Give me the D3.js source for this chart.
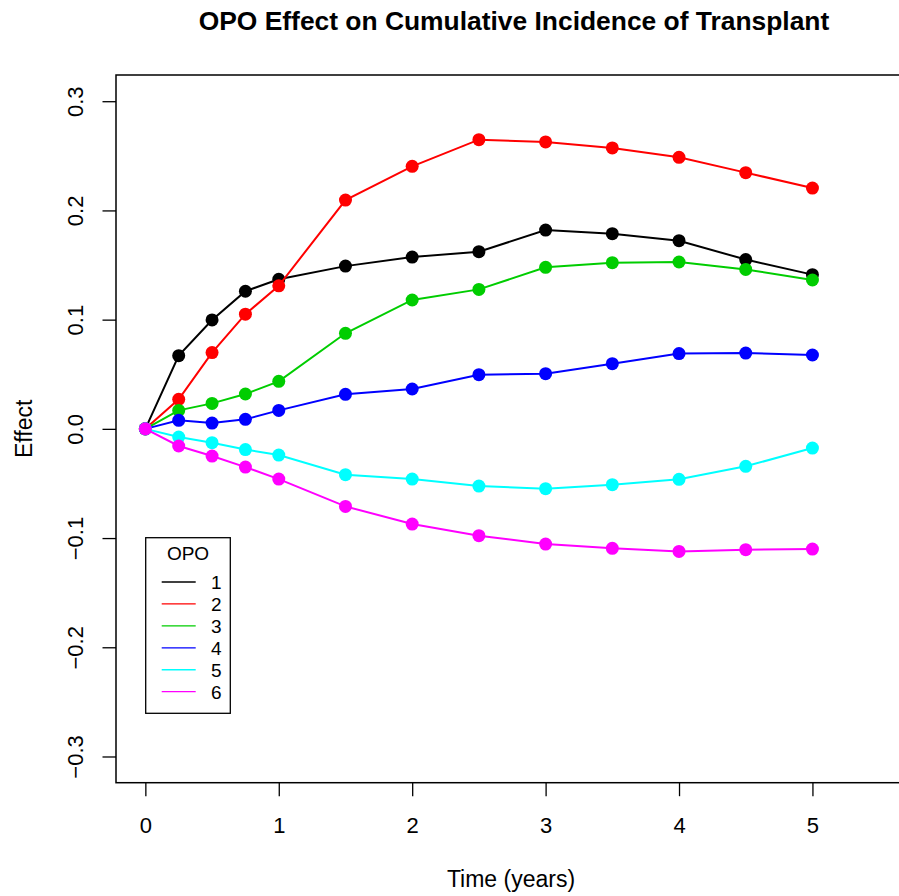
<!DOCTYPE html>
<html>
<head>
<meta charset="utf-8">
<script src="https://cdn.jsdelivr.net/npm/d3@7/dist/d3.min.js"></script>
<style>
  html, body { margin: 0; padding: 0; background: #fff; }
  svg { display: block; }
  text { font-family: "Liberation Sans", Arial, Helvetica, sans-serif; fill: #000; }
</style>
</head>
<body>
<svg id="chart" width="899" height="896"></svg>
<script>
// ---- data ----
const times = [0, 0.25, 0.5, 0.75, 1, 1.5, 2, 2.5, 3, 3.5, 4, 4.5, 5];
const opo1 = [0, 0.067, 0.0997, 0.126, 0.137, 0.149, 0.1573, 0.1622, 0.182, 0.1787, 0.1723, 0.155, 0.1412];
const opo2 = [0, 0.027, 0.0698, 0.105, 0.131, 0.2095, 0.2404, 0.2648, 0.2627, 0.2572, 0.2486, 0.2346, 0.2205];
const opo3 = [0, 0.0169, 0.0233, 0.0319, 0.0435, 0.0875, 0.118, 0.1277, 0.1479, 0.1522, 0.1528, 0.146, 0.1363];
const opo4 = [0, 0.0078, 0.0053, 0.0087, 0.0169, 0.0316, 0.0365, 0.0496, 0.0505, 0.0597, 0.0689, 0.0694, 0.0676];
const opo5 = [0, -0.0075, -0.0127, -0.019, -0.024, -0.042, -0.046, -0.0524, -0.0548, -0.0511, -0.0462, -0.0343, -0.0176];
const opo6 = [0, -0.0157, -0.0249, -0.035, -0.046, -0.071, -0.0872, -0.0978, -0.1055, -0.1094, -0.1122, -0.1106, -0.1101];
const seriesNames = ["1", "2", "3", "4", "5", "6"];
const seriesColors = ["#000000", "#FF0000", "#00CD00", "#0000FF", "#00FFFF", "#FF00FF"];
const xTicks = [0, 1, 2, 3, 4, 5];
const yTicks = [-0.3, -0.2, -0.1, 0.0, 0.1, 0.2, 0.3];
const titleText = "OPO Effect on Cumulative Incidence of Transplant";
const xLabel = "Time (years)";
const yLabel = "Effect";
const legendTitle = "OPO";

const seriesValues = [opo1, opo2, opo3, opo4, opo5, opo6];

// ---- layout ----
const svg = d3.select("#chart");
const plotL = 116, plotR = 908.5, plotT = 75, plotB = 782.7;

const xlim = [0, 5.5], ylim = [-0.3, 0.3];
const xext = (xlim[1] - xlim[0]) * 0.04, yext = (ylim[1] - ylim[0]) * 0.04;
const x = d3.scaleLinear().domain([xlim[0] - xext, xlim[1] + xext]).range([plotL, plotR]);
const y = d3.scaleLinear().domain([ylim[0] - yext, ylim[1] + yext]).range([plotB, plotT]);

// title
svg.append("text")
  .attr("x", 514).attr("y", 30)
  .attr("text-anchor", "middle")
  .style("font-size", "26.4px").style("font-weight", "bold")
  .text(titleText);

// axes
const xAxis = svg.append("g")
  .attr("transform", `translate(0,${plotB})`)
  .call(d3.axisBottom(x).tickValues(xTicks).tickSize(13.5).tickSizeOuter(0).tickFormat(d3.format("d")));
xAxis.select(".domain").remove();
xAxis.selectAll(".tick line").attr("stroke", "#000").attr("stroke-width", 1.3);
xAxis.selectAll(".tick text")
  .attr("y", 50).attr("dy", null)
  .style("font-size", "22px").style("font-family", "Liberation Sans, Arial, sans-serif");

const yAxis = svg.append("g")
  .attr("transform", `translate(${plotL},0)`)
  .call(d3.axisLeft(y).tickValues(yTicks).tickSize(13.5).tickSizeOuter(0).tickFormat(d => d3.format(".1f")(d).replace("-", "\u2212")));
yAxis.select(".domain").remove();
yAxis.selectAll(".tick line").attr("stroke", "#000").attr("stroke-width", 1.3);
yAxis.selectAll(".tick text")
  .attr("x", null).attr("dy", null)
  .attr("text-anchor", "middle")
  .attr("transform", "translate(-33,0) rotate(-90)")
  .style("font-size", "22px").style("font-family", "Liberation Sans, Arial, sans-serif");

// axis labels
svg.append("text")
  .attr("x", 511).attr("y", 887)
  .attr("text-anchor", "middle")
  .style("font-size", "23px")
  .text(xLabel);
svg.append("text")
  .attr("transform", `translate(32,${(plotT + plotB) / 2}) rotate(-90)`)
  .attr("text-anchor", "middle")
  .style("font-size", "23px")
  .text(yLabel);

// series
const line = d3.line().x(d => x(d[0])).y(d => y(d[1]));
seriesValues.forEach((vals, i) => {
  const pts = times.map((t, j) => [t, vals[j]]);
  const g = svg.append("g");
  g.append("path").datum(pts)
    .attr("d", line).attr("fill", "none")
    .attr("stroke", seriesColors[i]).attr("stroke-width", 2);
  g.selectAll("circle").data(pts).enter().append("circle")
    .attr("cx", d => x(d[0])).attr("cy", d => y(d[1])).attr("r", 6.5)
    .attr("fill", seriesColors[i]);
});

// plot box
svg.append("rect")
  .attr("x", plotL).attr("y", plotT)
  .attr("width", plotR - plotL).attr("height", plotB - plotT)
  .attr("fill", "none").attr("stroke", "#000").attr("stroke-width", 1.5);

// legend
const lg = svg.append("g");
const lgL = 145.7, lgT = 537.7, lgW = 84.6, lgH = 175.6;
lg.append("rect").attr("x", lgL).attr("y", lgT).attr("width", lgW).attr("height", lgH)
  .attr("fill", "#fff").attr("stroke", "#000").attr("stroke-width", 1.3);
lg.append("text").attr("x", lgL + lgW / 2).attr("y", lgT + 22)
  .attr("text-anchor", "middle").style("font-size", "19px").text(legendTitle);
seriesNames.forEach((nm, i) => {
  const cy = 582 + i * 21.94;
  lg.append("line").attr("x1", 161.7).attr("x2", 195.7).attr("y1", cy).attr("y2", cy)
    .attr("stroke", seriesColors[i]).attr("stroke-width", 1.3);
  lg.append("text").attr("x", 211).attr("y", cy + 6.8)
    .style("font-size", "19px").text(nm);
});
</script>
</body>
</html>
